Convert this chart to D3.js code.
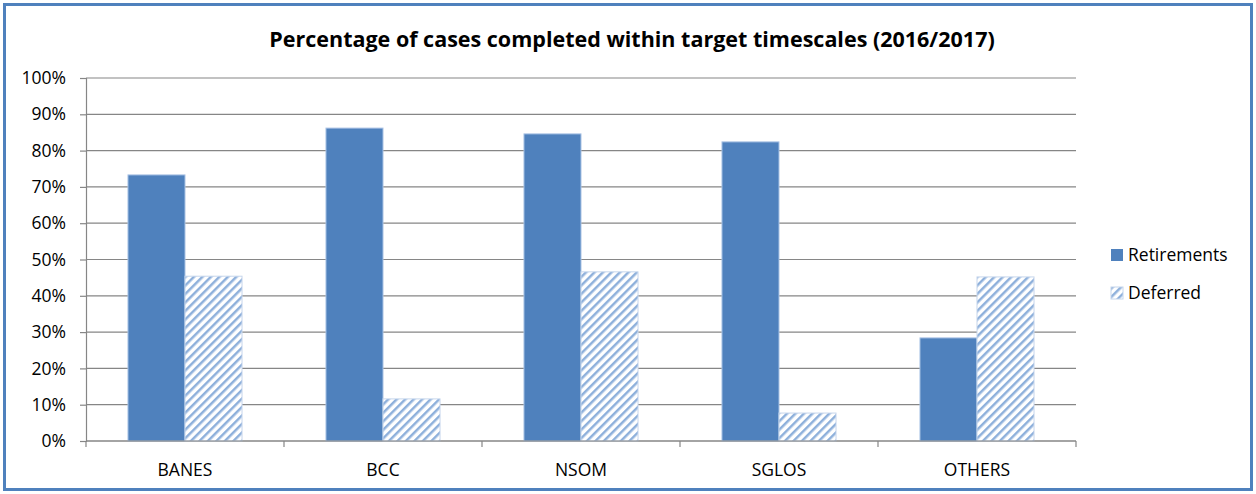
<!DOCTYPE html>
<html>
<head>
<meta charset="utf-8">
<script src="https://cdn.jsdelivr.net/npm/d3@7"></script>
<style>
  body { margin: 0; background: #fff; }
  svg text { font-family: "Open Sans", "Noto Sans", sans-serif; fill: #000; }
</style>
</head>
<body>
<div id="chart"></div>
<script>
// values (percent)
const categories = ["BANES", "BCC", "NSOM", "SGLOS", "OTHERS"];
const retirements = [73.3, 86.2, 84.6, 82.4, 28.4];
const deferred = [45.4, 11.6, 46.6, 7.7, 45.2];
const seriesNames = ["Retirements", "Deferred"];
const yTicks = [0, 10, 20, 30, 40, 50, 60, 70, 80, 90, 100];

const W = 1256, H = 494;
const margin = { top: 78, right: 180, bottom: 53, left: 86 },
  width = W - margin.left - margin.right,
  height = H - margin.top - margin.bottom;

const svg = d3.select("#chart")
  .append("svg")
  .attr("width", W)
  .attr("height", H);

// hatch pattern for the deferred series
const defs = svg.append("defs");
const pat = defs.append("pattern")
  .attr("id", "hatch")
  .attr("patternUnits", "userSpaceOnUse")
  .attr("width", 6)
  .attr("height", 6)
  .attr("patternTransform", "rotate(45)");
pat.append("rect").attr("width", 6).attr("height", 6).attr("fill", "#fff");
pat.append("rect").attr("width", 2.5).attr("height", 6).attr("fill", "#8eb0db");

// outer frame
svg.append("rect")
  .attr("x", 4.5).attr("y", 4.5)
  .attr("width", W - 9).attr("height", H - 9)
  .attr("fill", "#fff")
  .attr("stroke", "#4f81bd")
  .attr("stroke-width", 3);

svg.append("text")
  .attr("x", 632)
  .attr("y", 47)
  .attr("text-anchor", "middle")
  .style("font-size", "21.5px")
  .style("font-weight", "bold")
  .text("Percentage of cases completed within target timescales (2016/2017)");

const g = svg.append("g")
  .attr("transform", `translate(${margin.left},${margin.top})`);

const x = d3.scaleBand()
  .domain(categories)
  .range([0, width])
  .paddingInner(0.424)
  .paddingOuter(0.212);

const y = d3.scaleLinear()
  .domain([0, 100])
  .range([height, 0]);

// gridlines + y axis
const yAxis = g.append("g")
  .call(d3.axisLeft(y).tickValues(yTicks).tickSize(6).tickFormat(d => d + "%"));
yAxis.select(".domain").attr("stroke", "#868686").attr("stroke-width", 1.2);
yAxis.selectAll(".tick line").attr("stroke", "#868686").attr("stroke-width", 1.2);
yAxis.selectAll(".tick text").attr("x", -20).style("font-size", "17.5px");

g.append("g")
  .selectAll("line")
  .data(yTicks)
  .join("line")
  .attr("x1", 0)
  .attr("x2", width)
  .attr("y1", d => y(d))
  .attr("y2", d => y(d))
  .attr("stroke", "#868686")
  .attr("stroke-width", 1.2);

const x1 = d3.scaleBand()
  .domain(seriesNames)
  .range([0, x.bandwidth()]);

const rows = categories.map((c, i) => ({ cat: c, vals: [retirements[i], deferred[i]] }));

const grp = g.selectAll(".grp")
  .data(rows)
  .join("g")
  .attr("transform", d => `translate(${x(d.cat)},0)`);

grp.selectAll("rect")
  .data(d => d.vals.map((v, j) => ({ key: seriesNames[j], v })))
  .join("rect")
  .attr("x", d => x1(d.key))
  .attr("y", d => y(d.v))
  .attr("width", x1.bandwidth())
  .attr("height", d => height - y(d.v))
  .attr("fill", d => d.key === "Retirements" ? "#4f81bd" : "url(#hatch)")
  .attr("stroke", d => d.key === "Retirements" ? "#a9c2e4" : "#c6d6ec")
  .attr("stroke-width", 1);

// x axis with ticks at category boundaries
const xAxis = g.append("g")
  .attr("transform", `translate(0,${height})`);
xAxis.append("line")
  .attr("x1", 0).attr("x2", width)
  .attr("stroke", "#868686").attr("stroke-width", 1.2);
xAxis.selectAll(".xt")
  .data(d3.range(categories.length + 1))
  .join("line")
  .attr("x1", i => i * width / categories.length)
  .attr("x2", i => i * width / categories.length)
  .attr("y1", 0).attr("y2", 6)
  .attr("stroke", "#868686").attr("stroke-width", 1.2);
xAxis.selectAll("text")
  .data(categories)
  .join("text")
  .attr("x", d => x(d) + x.bandwidth() / 2)
  .attr("y", 35)
  .attr("text-anchor", "middle")
  .style("font-size", "17.5px")
  .text(d => d);

// legend
const legend = svg.append("g")
  .attr("transform", "translate(1111,249)");
const li = legend.selectAll("g")
  .data(seriesNames)
  .join("g")
  .attr("transform", (d, i) => `translate(0,${i * 38})`);
li.append("rect")
  .attr("width", 12).attr("height", 12)
  .attr("fill", d => d === "Retirements" ? "#4f81bd" : "url(#hatch)")
  .attr("stroke", d => d === "Retirements" ? "none" : "#c6d6ec");
li.append("text")
  .attr("x", 17)
  .attr("y", 12)
  .style("font-size", "17.5px")
  .text(d => d);
</script>
</body>
</html>
